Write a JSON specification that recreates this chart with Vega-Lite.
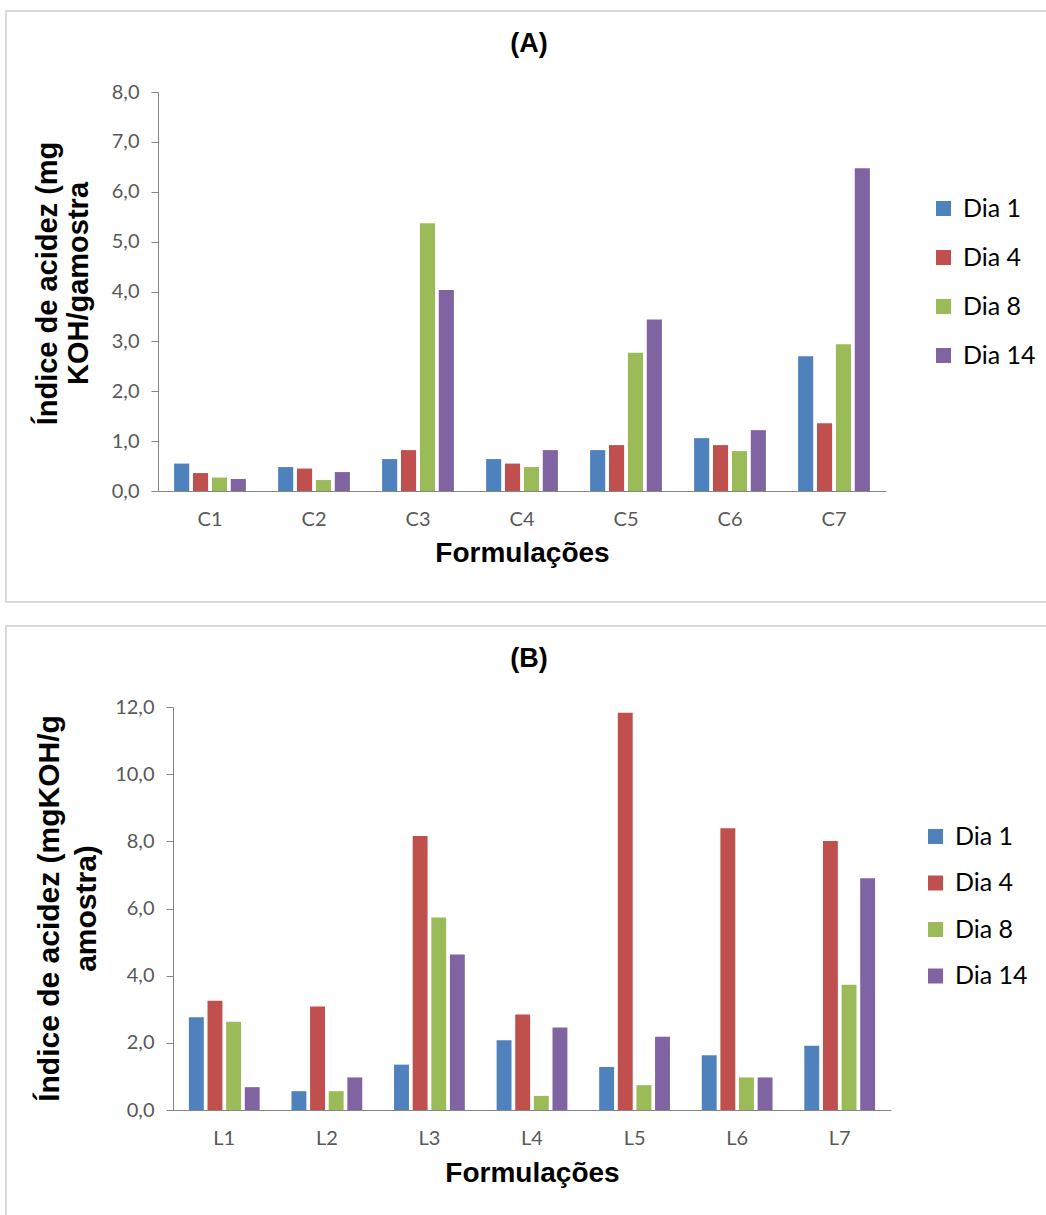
{
  "$schema": "https://vega.github.io/schema/vega-lite/v6.json",
  "padding": {"left": 5, "top": 10, "right": 0, "bottom": 0},
  "autosize": {"type": "pad"},
  "background": "white",
  "spacing": 22,
  "config": {
    "view": {"stroke": "#D9D9D9", "strokeWidth": 2},
    "font": "Lato",
    "axis": {"grid": false, "domainColor": "#868686", "tickColor": "#868686", "labelColor": "#595959", "labelFont": "Lato", "labelFontSize": 20, "titleFont": "Liberation Sans", "titleFontWeight": "bold", "titleFontSize": 28, "titleColor": "#000000"},
    "legend": {"symbolType": "square", "symbolSize": 225, "symbolStrokeWidth": 0, "labelFont": "Lato", "labelFontSize": 25, "labelColor": "#000000", "labelOffset": 7, "padding": 0},
    "title": {"font": "Liberation Sans", "fontSize": 27, "fontWeight": "bold", "color": "#000000"}
  },
  "data": {"values": [
    {"panel": "A", "formulacao": "C1", "dia": "Dia 1", "valor": 0.55},
    {"panel": "A", "formulacao": "C1", "dia": "Dia 4", "valor": 0.36},
    {"panel": "A", "formulacao": "C1", "dia": "Dia 8", "valor": 0.27},
    {"panel": "A", "formulacao": "C1", "dia": "Dia 14", "valor": 0.24},
    {"panel": "A", "formulacao": "C2", "dia": "Dia 1", "valor": 0.48},
    {"panel": "A", "formulacao": "C2", "dia": "Dia 4", "valor": 0.45},
    {"panel": "A", "formulacao": "C2", "dia": "Dia 8", "valor": 0.22},
    {"panel": "A", "formulacao": "C2", "dia": "Dia 14", "valor": 0.38},
    {"panel": "A", "formulacao": "C3", "dia": "Dia 1", "valor": 0.64},
    {"panel": "A", "formulacao": "C3", "dia": "Dia 4", "valor": 0.82},
    {"panel": "A", "formulacao": "C3", "dia": "Dia 8", "valor": 5.37},
    {"panel": "A", "formulacao": "C3", "dia": "Dia 14", "valor": 4.03},
    {"panel": "A", "formulacao": "C4", "dia": "Dia 1", "valor": 0.64},
    {"panel": "A", "formulacao": "C4", "dia": "Dia 4", "valor": 0.55},
    {"panel": "A", "formulacao": "C4", "dia": "Dia 8", "valor": 0.48},
    {"panel": "A", "formulacao": "C4", "dia": "Dia 14", "valor": 0.82},
    {"panel": "A", "formulacao": "C5", "dia": "Dia 1", "valor": 0.82},
    {"panel": "A", "formulacao": "C5", "dia": "Dia 4", "valor": 0.92},
    {"panel": "A", "formulacao": "C5", "dia": "Dia 8", "valor": 2.77},
    {"panel": "A", "formulacao": "C5", "dia": "Dia 14", "valor": 3.44},
    {"panel": "A", "formulacao": "C6", "dia": "Dia 1", "valor": 1.06},
    {"panel": "A", "formulacao": "C6", "dia": "Dia 4", "valor": 0.92},
    {"panel": "A", "formulacao": "C6", "dia": "Dia 8", "valor": 0.80},
    {"panel": "A", "formulacao": "C6", "dia": "Dia 14", "valor": 1.22},
    {"panel": "A", "formulacao": "C7", "dia": "Dia 1", "valor": 2.70},
    {"panel": "A", "formulacao": "C7", "dia": "Dia 4", "valor": 1.36},
    {"panel": "A", "formulacao": "C7", "dia": "Dia 8", "valor": 2.94},
    {"panel": "A", "formulacao": "C7", "dia": "Dia 14", "valor": 6.47},
    {"panel": "B", "formulacao": "L1", "dia": "Dia 1", "valor": 2.76},
    {"panel": "B", "formulacao": "L1", "dia": "Dia 4", "valor": 3.25},
    {"panel": "B", "formulacao": "L1", "dia": "Dia 8", "valor": 2.63},
    {"panel": "B", "formulacao": "L1", "dia": "Dia 14", "valor": 0.68},
    {"panel": "B", "formulacao": "L2", "dia": "Dia 1", "valor": 0.56},
    {"panel": "B", "formulacao": "L2", "dia": "Dia 4", "valor": 3.08},
    {"panel": "B", "formulacao": "L2", "dia": "Dia 8", "valor": 0.56},
    {"panel": "B", "formulacao": "L2", "dia": "Dia 14", "valor": 0.97},
    {"panel": "B", "formulacao": "L3", "dia": "Dia 1", "valor": 1.35},
    {"panel": "B", "formulacao": "L3", "dia": "Dia 4", "valor": 8.16},
    {"panel": "B", "formulacao": "L3", "dia": "Dia 8", "valor": 5.73},
    {"panel": "B", "formulacao": "L3", "dia": "Dia 14", "valor": 4.63},
    {"panel": "B", "formulacao": "L4", "dia": "Dia 1", "valor": 2.08},
    {"panel": "B", "formulacao": "L4", "dia": "Dia 4", "valor": 2.84},
    {"panel": "B", "formulacao": "L4", "dia": "Dia 8", "valor": 0.42},
    {"panel": "B", "formulacao": "L4", "dia": "Dia 14", "valor": 2.46},
    {"panel": "B", "formulacao": "L5", "dia": "Dia 1", "valor": 1.28},
    {"panel": "B", "formulacao": "L5", "dia": "Dia 4", "valor": 11.83},
    {"panel": "B", "formulacao": "L5", "dia": "Dia 8", "valor": 0.74},
    {"panel": "B", "formulacao": "L5", "dia": "Dia 14", "valor": 2.18},
    {"panel": "B", "formulacao": "L6", "dia": "Dia 1", "valor": 1.63},
    {"panel": "B", "formulacao": "L6", "dia": "Dia 4", "valor": 8.39},
    {"panel": "B", "formulacao": "L6", "dia": "Dia 8", "valor": 0.97},
    {"panel": "B", "formulacao": "L6", "dia": "Dia 14", "valor": 0.97},
    {"panel": "B", "formulacao": "L7", "dia": "Dia 1", "valor": 1.91},
    {"panel": "B", "formulacao": "L7", "dia": "Dia 4", "valor": 8.01},
    {"panel": "B", "formulacao": "L7", "dia": "Dia 8", "valor": 3.73},
    {"panel": "B", "formulacao": "L7", "dia": "Dia 14", "valor": 6.90}
  ]},
  "resolve": {"scale": {"x": "independent", "y": "independent", "color": "independent", "xOffset": "independent"}, "legend": {"color": "independent"}, "axis": {"x": "independent", "y": "independent"}},
  "vconcat": [
    {
      "width": 1046,
      "height": 591,
      "title": {"text": "(A)", "offset": -60, "anchor": "middle", "frame": "group", "baseline": "middle"},
      "transform": [{"filter": "datum.panel === 'A'"}],
      "mark": {"type": "bar"},
      "encoding": {
        "x": {"field": "formulacao", "type": "nominal", "sort": ["C1", "C2", "C3", "C4", "C5", "C6", "C7"],
          "scale": {"range": [152, 880], "paddingInner": 0.31, "paddingOuter": 0.155},
          "axis": {"title": "Formulações", "labelAngle": 0, "ticks": false, "tickSize": 0, "labelPadding": 18, "offset": -111, "titleY": 62, "titleBaseline": "middle"}},
        "xOffset": {"field": "dia", "type": "nominal", "sort": ["Dia 1", "Dia 4", "Dia 8", "Dia 14"], "scale": {"paddingInner": 0.2, "paddingOuter": 0}},
        "y": {"field": "valor", "type": "quantitative",
          "scale": {"domain": [0, 8], "range": [480, 81], "nice": false},
          "axis": {"title": ["Índice de acidez (mg", "KOH/gamostra"], "values": [0, 1, 2, 3, 4, 5, 6, 7, 8], "labelExpr": "replace(format(datum.value, '.1f'), '.', ',')", "offset": -152, "tickSize": 7, "labelPadding": 12, "titleX": -111, "titleY": 272, "titleBaseline": "middle", "titleAngle": -90, "titleLineHeight": 31, "titleFontSize": 29}},
        "color": {"field": "dia", "type": "nominal",
          "scale": {"domain": ["Dia 1", "Dia 4", "Dia 8", "Dia 14"], "range": ["#4F81BD", "#C0504D", "#9BBB59", "#8064A2"]},
          "legend": {"title": null, "orient": "none", "legendX": 925, "legendY": 185, "rowPadding": 23}}
      }
    },
    {
      "width": 1046,
      "height": 590,
      "title": {"text": "(B)", "offset": -60, "anchor": "middle", "frame": "group", "baseline": "middle"},
      "transform": [{"filter": "datum.panel === 'B'"}],
      "mark": {"type": "bar"},
      "encoding": {
        "x": {"field": "formulacao", "type": "nominal", "sort": ["L1", "L2", "L3", "L4", "L5", "L6", "L7"],
          "scale": {"range": [167, 885], "paddingInner": 0.31, "paddingOuter": 0.155},
          "axis": {"title": "Formulações", "labelAngle": 0, "ticks": false, "tickSize": 0, "labelPadding": 18, "offset": -106, "titleY": 63, "titleBaseline": "middle"}},
        "xOffset": {"field": "dia", "type": "nominal", "sort": ["Dia 1", "Dia 4", "Dia 8", "Dia 14"], "scale": {"paddingInner": 0.2, "paddingOuter": 0}},
        "y": {"field": "valor", "type": "quantitative",
          "scale": {"domain": [0, 12], "range": [484, 81], "nice": false},
          "axis": {"title": ["Índice de acidez (mgKOH/g", "amostra)"], "values": [0, 2, 4, 6, 8, 10, 12], "labelExpr": "replace(format(datum.value, '.1f'), '.', ',')", "offset": -167, "tickSize": 7, "labelPadding": 12, "titleX": -124, "titleY": 282, "titleBaseline": "middle", "titleAngle": -90, "titleLineHeight": 37, "titleFontSize": 30}},
        "color": {"field": "dia", "type": "nominal",
          "scale": {"domain": ["Dia 1", "Dia 4", "Dia 8", "Dia 14"], "range": ["#4F81BD", "#C0504D", "#9BBB59", "#8064A2"]},
          "legend": {"title": null, "orient": "none", "legendX": 917, "legendY": 198, "rowPadding": 20.5}}
      }
    }
  ]
}
